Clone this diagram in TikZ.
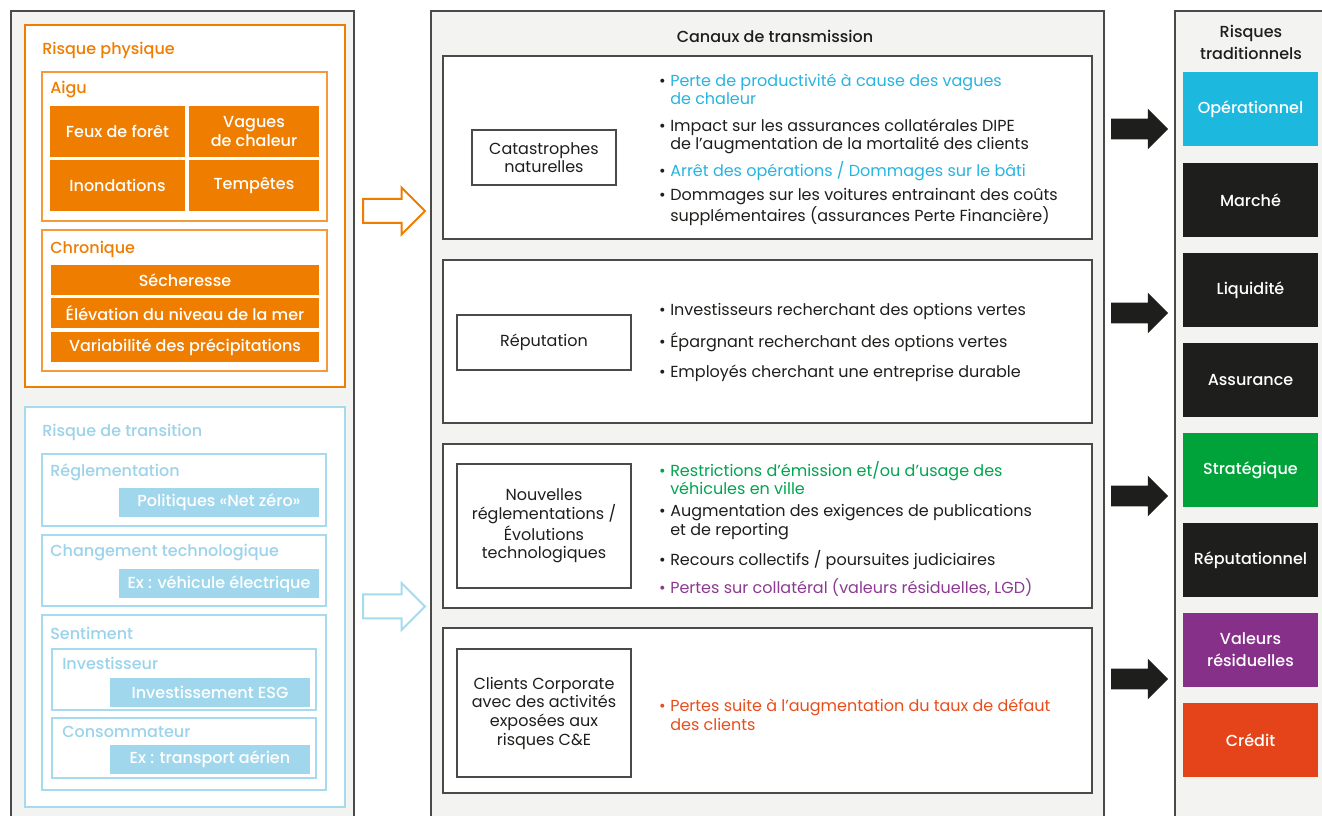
\documentclass[tikz,border=0pt]{standalone}
\usepackage{fontspec}
\setmainfont{Poppins}
\newfontfamily\medfont{Poppins Medium}
\usetikzlibrary{shapes.arrows}

\definecolor{panelgrey}{HTML}{F3F3F1}
\definecolor{panelline}{HTML}{4A4A4A}
\definecolor{orangeR}{HTML}{EF7D00}
\definecolor{orangeL}{HTML}{F39A3C}
\definecolor{blueL}{HTML}{A6DAEE}
\definecolor{blueT}{HTML}{9BD3EA}
\definecolor{blueTile}{HTML}{A1D7EC}
\definecolor{cyanR}{HTML}{1DB8DE}
\definecolor{greenR}{HTML}{00A33A}
\definecolor{purpleR}{HTML}{86308A}
\definecolor{redR}{HTML}{E5431A}
\definecolor{darkR}{HTML}{1E1E1C}
\definecolor{cyanT}{HTML}{27B4E0}
\definecolor{greenT}{HTML}{00A54F}
\definecolor{purpleT}{HTML}{8D3A92}
\definecolor{redT}{HTML}{E84E1B}
\definecolor{textR}{HTML}{1E1E1C}

\newcommand{\bul}[1][textR]{\llap{\textcolor{#1}{•}\hspace{3.5pt}}}

\begin{document}
\begin{tikzpicture}[x=0.75pt, y=-0.75pt,
  dims/.style 2 args={minimum width=#1*0.75pt, minimum height=#2*0.75pt},
  panel/.style={fill=panelgrey, draw=panelline, line width=0.8pt},
  head/.style={anchor=west, inner sep=0pt, font=\medfont\fontsize{12}{14}\selectfont},
  otile/.style={fill=orangeR, text=white, inner sep=0pt, align=center,
    font=\medfont\fontsize{12}{14.3}\selectfont},
  btile/.style={otile, fill=blueTile, dims={200}{29}},
  chan/.style={draw=panelline, fill=white, line width=0.8pt},
  cbox/.style={draw=panelline, fill=white, line width=0.8pt, inner sep=0pt, align=center,
    text=textR, font=\fontsize{12}{14}\selectfont},
  item/.style={anchor=west, inner sep=0pt, align=left, text=textR,
    font=\fontsize{12}{13.9}\selectfont},
  rtile/.style={dims={135}{74}, inner sep=0pt, align=center, text=white,
    font=\medfont\fontsize{12}{16.5}\selectfont},
  harrow/.style={single arrow, line width=1.5pt, fill=white, inner xsep=0pt, inner ysep=8.25pt,
    minimum height=46.5pt, single arrow head extend=8.6pt},
  barrow/.style={single arrow, fill=darkR, inner xsep=0pt, inner ysep=7.5pt,
    minimum height=42.75pt, single arrow head extend=7.5pt}]
  \useasboundingbox (0,0) rectangle (1322,816);

  % Panels
  \filldraw[panel] (11,11) rectangle (354,840);
  \filldraw[panel] (431,11) rectangle (1104,840);
  \filldraw[panel] (1175,11) rectangle (1340,840);

  % Physical risk
  \draw[orangeR, line width=1.6pt, fill=white] (25,25) rectangle (345,387);
  \node[head, text=orangeR] (phys) at (42,50) {Risque physique};
  \draw[orangeL, line width=0.8pt] (42,72) rectangle (327,221);
  \node[head, text=orangeR] (aigu) at (50,90) {Aigu};
  \node[otile, dims={135}{51}] (feux) at (117.5,131.5) {Feux de forêt};
  \node[otile, dims={130}{51}] (vagues) at (254,131.5) {Vagues\\de chaleur};
  \node[otile, dims={135}{51}] (inond) at (117.5,185.5) {Inondations};
  \node[otile, dims={130}{51}] (tempete) at (254,185.5) {Tempêtes};
  \draw[orangeL, line width=0.8pt] (42,230) rectangle (327,371);
  \node[head, text=orangeR] (chron) at (50,249) {Chronique};
  \node[otile, dims={268}{30}] (sech) at (185,280) {Sécheresse};
  \node[otile, dims={268}{30}] (elev) at (185,313) {Élévation du niveau de la mer};
  \node[otile, dims={268}{30}] (precip) at (185,347) {Variabilité des précipitations};

  % Transition risk
  \draw[blueL, line width=1.8pt, fill=white] (25,407) rectangle (345,807);
  \node[head, text=blueT] (trans) at (42,432) {Risque de transition};
  \draw[blueL, line width=1pt] (42,454) rectangle (326,526);
  \node[head, text=blueT] (regl) at (50,472) {Réglementation};
  \node[btile] (netzero) at (219,502.5) {Politiques «Net zéro»};
  \draw[blueL, line width=1pt] (42,535) rectangle (326,606);
  \node[head, text=blueT] (techno) at (50,553) {Changement technologique};
  \node[btile] (velec) at (219,584) {Ex : véhicule électrique};
  \draw[blueL, line width=1pt] (42,615) rectangle (326,790);
  \node[head, text=blueT] (senti) at (50,633) {Sentiment};
  \draw[blueL, line width=1pt] (52,649) rectangle (316,710);
  \node[head, text=blueT] (invest) at (62,663) {Investisseur};
  \node[btile] (esg) at (210,692) {Investissement ESG};
  \draw[blueL, line width=1pt] (52,718) rectangle (316,778);
  \node[head, text=blueT] (conso) at (62,732) {Consommateur};
  \node[btile] (avion) at (210,759.5) {Ex : transport aérien};

  % Hollow arrows
  \node[harrow, draw=orangeR] (arphys) at (388,211) {};
  \node[harrow, draw=blueL] (artrans) at (388,606.5) {};

  % Transmission channels
  \node[head, anchor=center, text=textR] (canaux) at (775,36) {Canaux de transmission};
  \draw[chan] (443,56) rectangle (1092,239);
  \draw[chan] (443,260) rectangle (1092,423);
  \draw[chan] (443,444) rectangle (1092,608);
  \draw[chan] (443,628) rectangle (1092,793);

  \node[cbox, dims={144}{55}] (catas) at (544,157.5) {Catastrophes\\naturelles};
  \node[cbox, dims={174}{55}] (reput) at (544,342.5) {Réputation};
  \node[cbox, dims={174}{124}] (regtech) at (544,526) {Nouvelles\\réglementations /\\Évolutions\\technologiques};
  \node[cbox, dims={174}{128}] (clients) at (544,713) {Clients Corporate\\avec des activités\\exposées aux\\risques C\&E};

  \node[item, text=cyanT] (c1a) at (670,89.5) {\bul Perte de productivité à cause des vagues\\ de chaleur};
  \node[item] (c1b) at (670,136.5) {\bul Impact sur les assurances collatérales DIPE\\de l’augmentation de la mortalité des clients};
  \node[item, text=cyanT] (c1c) at (670,171.5) {\bul Arrêt des opérations / Dommages sur le bâti};
  \node[item] (c1d) at (670,207) {\bul Dommages sur les voitures entrainant des coûts\\supplémentaires (assurances Perte Financière)};

  \node[item] (c2a) at (670,311) {\bul Investisseurs recherchant des options vertes};
  \node[item] (c2b) at (670,342) {\bul Épargnant recherchant des options vertes};
  \node[item] (c2c) at (670,373) {\bul Employés cherchant une entreprise durable};

  \node[item, text=greenT] (c3a) at (670,478) {\bul[greenT]Restrictions d’émission et/ou d’usage des\\véhicules en ville};
  \node[item] (c3b) at (670,522) {\bul Augmentation des exigences de publications\\et de reporting};
  \node[item] (c3c) at (670,560) {\bul Recours collectifs / poursuites judiciaires};
  \node[item, text=purpleT] (c3d) at (670,588) {\bul[purpleT]Pertes sur collatéral (valeurs résiduelles, LGD)};

  \node[item, text=redT] (c4a) at (670,715) {\bul[redT]Pertes suite à l’augmentation du taux de défaut\\des clients};

  % Traditional risks
  \node[head, anchor=center, align=center, text=textR, font=\medfont\fontsize{12}{16.5}\selectfont] (trad) at (1251,42) {Risques\\traditionnels};
  \node[rtile, fill=cyanR] (oper) at (1250.5,109) {Opérationnel};
  \node[rtile, fill=darkR] (marche) at (1250.5,200) {Marché};
  \node[rtile, fill=darkR] (liqui) at (1250.5,290) {Liquidité};
  \node[rtile, fill=darkR] (assur) at (1250.5,380) {Assurance};
  \node[rtile, fill=greenR] (strat) at (1250.5,470) {Stratégique};
  \node[rtile, fill=darkR] (reputr) at (1250.5,560) {Réputationnel};
  \node[rtile, fill=purpleR] (resid) at (1250.5,650) {Valeurs\\résiduelles};
  \node[rtile, fill=redR] (credit) at (1250.5,740) {Crédit};

  % Black arrows
  \node[barrow] (ar1) at (1134.5,129) {};
  \node[barrow] (ar2) at (1134.5,313) {};
  \node[barrow] (ar3) at (1134.5,496) {};
  \node[barrow] (ar4) at (1134.5,679) {};
\end{tikzpicture}
\end{document}
